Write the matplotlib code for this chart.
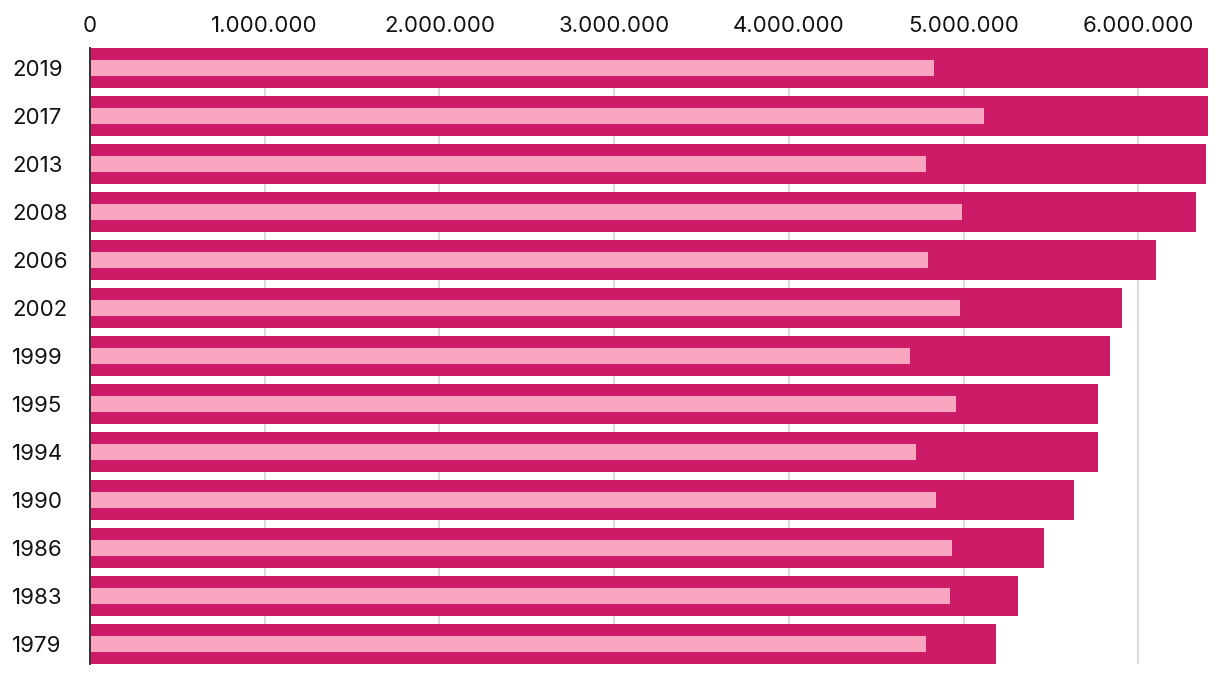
import matplotlib.pyplot as plt
from matplotlib.ticker import FuncFormatter

years = ["2019", "2017", "2013", "2008", "2006", "2002", "1999",
         "1995", "1994", "1990", "1986", "1983", "1979"]
# outer (dark) bars
total = [6398000, 6398000, 6386000, 6329000, 6100000, 5906000, 5837000,
         5768000, 5768000, 5631000, 5459000, 5310000, 5185000]
# inner (light) bars
inner = [4830000, 5116000, 4784000, 4990000, 4795000, 4979000, 4692000,
         4956000, 4727000, 4841000, 4933000, 4921000, 4784000]

dark = "#CB1A66"
light = "#FAA6C1"

plt.rcParams['font.family'] = ['Inter', 'DejaVu Sans']

fig = plt.figure(figsize=(12.2, 6.74), dpi=100)
ax = fig.add_axes([90 / 1220, 1 - 664 / 674, (1208 - 90) / 1220, (664 - 48) / 674])

pos = list(range(len(years)))
ax.barh(pos, total, height=40 / 48, color=dark, zorder=2)
ax.barh(pos, inner, height=16 / 48, color=light, zorder=3)

ax.set_xlim(0, max(total))
ax.set_ylim(len(years) - 1 + 20 / 48, -20 / 48)

ax.set_xticks([0, 1e6, 2e6, 3e6, 4e6, 5e6, 6e6])
ax.xaxis.set_major_formatter(FuncFormatter(lambda v, p: f"{int(v):,}".replace(",", ".")))
ax.xaxis.tick_top()
ax.tick_params(axis='x', length=0, pad=9, labelsize=16, colors="#111111")
ax.grid(axis='x', color="#d9d9d9", linewidth=1.3, zorder=0)
ax.set_axisbelow(True)

ax.set_yticks(pos)
ax.set_yticklabels(years)
ax.tick_params(axis='y', length=0, pad=56, labelsize=16, colors="#111111")
for t in ax.get_yticklabels():
    t.set_horizontalalignment('left')

for s in ["top", "right", "bottom"]:
    ax.spines[s].set_visible(False)
ax.spines["left"].set_color("#333333")
ax.spines["left"].set_linewidth(1.4)
ax.spines["left"].set_zorder(4)

fig.savefig("out.png", dpi=100)
